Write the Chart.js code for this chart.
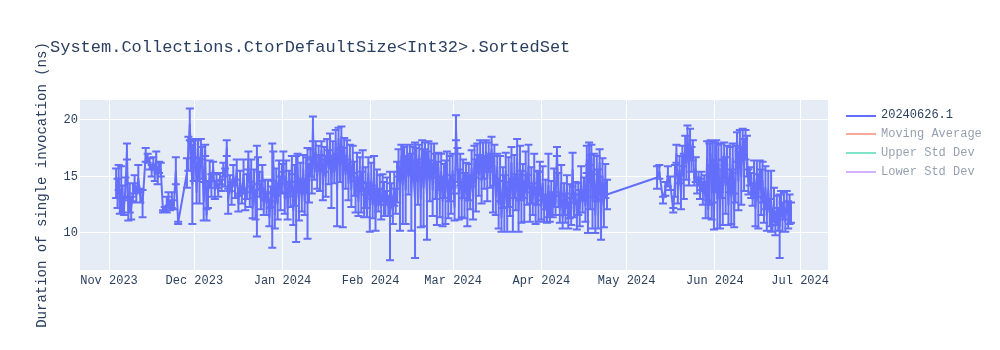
<!DOCTYPE html>
<html><head><meta charset="utf-8">
<script src="https://cdn.jsdelivr.net/npm/chart.js@4.4.1/dist/chart.umd.min.js"></script>
<style>
html,body{margin:0;padding:0;background:#fff;}
#wrap{position:relative;width:1000px;height:350px;font-family:"Liberation Mono","Courier New",monospace;}
#c{position:absolute;left:0;top:0;}
#title{position:absolute;left:50px;top:39px;font-size:17px;line-height:17px;color:#2a3f5f;white-space:pre;}
.leg{position:absolute;left:846px;height:19px;width:150px;font-size:12px;color:#2a3f5f;white-space:pre;}
.leg .sw{position:absolute;left:0;top:8.5px;width:30px;height:2px;}
.leg .tx{position:absolute;left:35px;top:0;line-height:19px;}
.off{opacity:0.5;}
</style></head>
<body>
<div id="wrap">
<canvas id="c" width="1000" height="350"></canvas>
<div id="title"></div>
<div id="legend"></div>
</div>
<script>
// ---- data: x = days since 2023-11-01, mean duration (ns), error (ns) ----
const novDays=[2.5,3.0,3.4,3.8,4.3,4.8,5.3,5.8,6.3,6.8,7.3,7.8,8.4,9.0,9.6,10.3,11.0,11.8,12.9,13.6,14.3,15.0,15.6,16.1,16.6,17.1,17.6,18.2,19.0,19.6,20.3,20.9,21.5,22.1,22.8,23.5,24.3,27.4,27.9,28.4,28.8,29.3];
const novMean=[14.4,13.5,14.9,12.6,13.8,13.0,12.4,14.0,17.2,12.0,13.1,12.2,13.6,14.3,13.4,14.8,13.3,12.6,16.9,16.6,16.1,15.5,16.2,15.2,16.4,14.8,15.8,15.6,11.9,12.1,12.5,13.0,12.4,12.9,12.5,15.5,10.9,15.3,17.0,19.6,16.8,14.3];
const novErr=[1.3,1.3,1.1,0.9,2.1,1.2,0.8,0.9,0.7,0.9,1.3,1.0,0.8,0.8,0.7,1.2,0.6,1.2,0.6,0.4,0.5,0.5,0.5,0.6,0.8,0.5,0.5,0.6,0.1,0.2,0.7,0.6,0.4,0.7,0.4,1.2,0.1,1.3,1.5,1.4,1.3,3.5];

const decDays=[29.8,30.3,30.8,31.3,31.8,32.3,32.8,33.3,33.8,34.3,34.8,35.4,36.0,36.6,37.2,37.8,38.4,39.0,39.6,40.2,40.8,41.4,41.9,42.5,43.1,43.7,44.3,44.9,45.5,46.1,46.7,47.3,47.9,48.5,49.0,49.5,50.0,50.5,51.0,51.5,52.0,52.4,52.9,53.4,53.9,54.4,54.9,55.4,55.9,56.4,56.9,57.4,57.8,58.3,58.8,59.3,59.8,60.3,60.8];
const decMean=[16.4,17.5,13.6,17.0,14.6,17.4,16.2,12.8,17.3,11.6,13.4,15.2,14.2,15.8,13.8,14.6,13.6,14.8,14.2,15.6,14.9,17.5,12.8,14.4,13.5,15.1,13.9,15.6,12.6,14.5,13.2,15.2,12.8,14.1,16.4,13.2,15.5,12.2,14.6,12.5,13.7,15.5,14.3,13.0,15.3,12.3,13.8,12.6,14.1,11.4,13.2,13.3,15.9,11.6,14.5,12.6,15.4,13.5,14.8];
const decErr=[1.8,0.8,1.0,1.2,2.0,0.9,1.4,1.7,0.5,0.5,1.2,1.2,1.0,0.5,0.8,0.6,0.4,0.5,0.5,0.6,0.8,0.7,1.1,0.7,1.0,0.9,0.8,0.9,0.7,1.0,0.6,1.3,0.8,1.1,0.8,0.9,1.0,0.9,1.0,1.3,4.0,1.2,1.1,0.9,0.7,0.7,0.9,1.0,0.6,0.8,0.9,4.6,1.3,1.2,1.2,1.4,1.0,1.5,1.3];

const janDays=[61.3,61.8,62.3,62.8,63.3,63.8,64.3,64.8,65.3,65.8,66.3,66.8,67.3,67.8,68.3,68.8,69.3,69.8,70.3,70.8,71.3,71.7,72.2,72.7,73.2,73.7,74.2,74.7,75.2,75.7,76.2,76.7,77.2,77.7,78.2,78.7,79.2,79.7,80.2,80.7,81.2,81.7,82.2,82.7,83.2,83.7,84.2,84.7,85.2,85.7,86.2,86.7,87.2,87.7,88.2,88.7,89.2,89.7,90.2,90.7,91.2,91.7];
const janMean=[16.3,13.0,15.0,12.2,14.6,13.4,16.0,12.0,14.2,13.0,15.8,12.6,14.9,13.3,15.6,12.8,15.1,13.5,14.4,16.2,15.0,19.2,15.7,17.1,14.8,16.6,15.3,17.3,14.2,16.5,15.0,17.4,15.8,17.8,14.4,16.9,15.4,18.0,13.8,18.3,16.0,18.5,14.0,17.6,15.2,17.0,14.4,16.8,13.9,16.5,14.8,13.2,16.0,12.8,15.2,13.6,15.9,12.4,14.0,12.9,15.3,12.1];
const janErr=[0.9,1.3,1.4,1.0,0.9,1.1,0.8,1.3,1.8,3.8,1.2,1.5,1.3,1.4,1.3,1.2,1.6,4.0,1.7,1.2,1.5,1.1,1.0,1.0,0.9,1.1,1.6,0.8,1.3,1.1,1.8,0.9,1.5,1.0,2.2,1.2,1.0,1.1,3.2,1.0,1.5,0.9,3.5,0.8,1.3,1.2,1.5,1.0,1.6,1.2,1.5,1.4,1.1,1.3,1.5,1.8,1.4,1.0,1.8,1.5,1.4,2.0];

const febDays=[92.2,92.7,93.2,93.7,94.2,94.7,95.2,95.7,96.2,96.7,97.2,97.7,98.2,98.8,99.3,99.8,100.3,100.8,101.3,101.8,102.3,102.8,103.3,103.8,104.3,104.8,105.3,105.8,106.3,106.8,107.6,108.1,108.6,109.1,109.6,110.1,110.6,111.1,111.8,112.3,112.8,113.3,113.8,114.3,114.8,115.3,115.8,116.3,116.8,117.3,117.8,118.3,118.8,119.3,119.8,120.3,120.8,121.5,122.0];
const febMean=[14.6,12.5,15.5,11.4,14.2,12.9,13.8,12.3,14.0,13.0,12.6,13.7,12.4,11.5,13.4,12.0,13.9,12.8,14.5,16.2,13.0,16.8,14.3,16.5,13.8,16.9,15.0,17.0,13.6,16.4,12.9,16.2,14.5,16.8,13.0,17.2,14.0,16.6,13.3,17.0,14.6,16.4,13.8,16.9,15.0,13.5,15.8,13.2,15.4,12.8,14.6,13.6,15.9,12.9,14.8,13.4,15.5,12.3,19.3];
const febErr=[1.6,1.2,1.3,1.2,1.4,1.0,1.3,1.1,1.2,1.5,1.1,1.2,0.9,3.9,1.0,1.2,1.5,1.1,1.8,1.2,2.8,1.0,3.5,1.1,3.0,0.9,1.6,0.8,3.4,1.2,5.1,1.3,2.0,1.0,2.5,1.0,3.4,1.4,3.9,1.1,1.8,1.5,2.3,1.0,2.0,2.8,1.3,1.8,1.6,2.2,1.5,2.8,1.3,1.6,2.0,1.7,1.5,1.2,1.1];

const marDays=[122.5,123,123.5,124,124.5,125,125.5,126,126.5,127,127.5,128,128.5,129,129.5,130,130.5,131,131.5,132,132.5,133,133.5,134,134.5,135,135.5,136,136.5,137,137.5,138,138.5,139,139.5,140,140.5,141,141.5,142,142.5,143,143.5,144,144.5,145,145.5,146,146.5,147,147.5,148,148.5,149,149.5,150,150.5,151,151.5];
const marMean=[16.0,13.4,15.6,12.9,14.8,13.3,15.0,12.8,14.5,13.6,15.7,13.0,16.3,14.2,16.8,15.1,17.0,14.6,16.4,15.3,17.2,14.8,16.7,15.5,17.4,14.3,16.0,13.2,15.8,12.5,14.8,11.4,14.0,12.6,15.5,11.8,14.5,13.0,16.2,12.4,15.0,13.6,16.6,12.0,15.3,13.2,14.6,12.8,15.4,13.8,15.9,12.5,14.2,13.0,15.2,12.4,14.0,13.2,15.0];
const marErr=[1.5,2.2,1.4,1.5,1.7,2.0,1.2,2.2,1.6,1.5,1.6,1.8,1.4,2.3,1.1,1.8,1.2,2.0,1.6,1.4,1.0,2.0,1.3,1.5,1.1,2.5,1.8,1.6,1.2,2.1,2.0,1.3,1.8,2.5,1.6,1.7,2.2,1.5,1.4,2.3,1.9,1.6,1.7,1.9,2.4,2.3,1.5,1.8,1.8,1.3,1.9,1.5,1.6,1.4,1.8,1.6,1.5,2.2,1.3];

const aprDays=[152,152.5,153,153.5,154,154.5,155,155.5,156,156.5,157,157.5,158,158.5,159,159.5,160,160.5,161,161.5,162,162.5,163,163.5,164,164.5,165,165.5,166,166.5,167,167.5,168,168.4,168.8,169.2,169.6,170,170.5,171,171.5,172,172.5,173,173.5,174,174.5,175.1];
const aprMean=[12.3,14.4,12.0,13.4,11.8,14.2,12.2,13.0,12.5,14.0,12.6,17.2,13.8,12.1,14.4,11.4,13.0,12.2,14.1,11.3,12.8,11.9,15.6,12.4,13.6,11.5,13.0,12.2,14.6,12.7,13.9,12.4,16.5,11.6,17.0,14.5,16.6,12.8,15.6,11.6,14.8,13.0,16.2,11.2,15.0,12.4,14.6,13.4];
const aprErr=[1.1,1.5,1.0,1.3,0.9,2.8,1.2,1.6,1.1,1.7,1.0,0.4,1.5,1.2,1.6,1.0,1.4,1.3,1.0,0.9,1.5,1.2,1.5,1.0,0.9,1.2,1.4,1.6,1.3,0.9,1.0,1.4,1.2,1.6,1.0,2.4,1.2,2.4,1.4,1.6,2.0,2.6,1.2,1.8,1.6,1.9,1.5,1.3];

const junDays=[192.7,193.5,194.8,195.6,196.5,197.3,198.4,199.0,199.5,200.0,200.6,201.1,201.6,202.1,202.6,203.0,203.4,203.9,204.3,204.8,205.3,205.8,206.3,206.8,207.3,207.8,208.3,208.8,209.3,209.8,210.3,210.7,211.1,211.5,211.9,212.3,212.7,213.1,213.5,213.9,214.3,214.8,215.3,215.8,216.3,216.8,217.3,217.8,218.3,218.8,219.3,219.8,220.3,220.8,221.3,221.8,222.3,222.8,223.3,223.8,224.3,224.8,225.3,225.8,226.3,226.8,227.3,227.8,228.3,228.8,229.3,229.8,230.3,230.8,231.3,231.8,232.3,232.8,233.3,233.8,234.3,234.8,235.3,235.8,236.3,236.8,237.3,237.8,238.3,238.8,239.3,239.8];
const junMean=[14.9,15.4,12.9,13.9,15.0,14.4,12.0,14.6,17.0,13.9,15.6,13.4,16.8,15.0,17.6,16.2,18.6,15.6,18.2,16.5,17.3,14.8,15.6,14.2,14.8,13.9,14.6,13.5,14.4,12.5,16.6,12.1,15.2,17.0,13.6,16.5,11.5,15.8,17.3,13.0,16.2,12.0,15.5,13.6,17.0,14.2,16.1,12.5,15.6,13.2,16.6,12.0,15.2,17.6,14.6,18.1,15.0,18.4,16.0,17.8,16.8,14.5,15.0,14.2,13.0,15.4,12.2,14.8,12.8,15.5,13.6,14.5,12.0,14.0,11.5,13.8,11.8,12.8,11.0,12.5,10.6,12.0,11.2,10.6,12.6,11.4,12.4,11.0,12.9,11.6,12.1,11.8];
const junErr=[1.0,0.6,0.3,0.6,0.9,0.6,0.2,1.4,0.8,1.3,1.2,1.3,0.9,2.0,1.0,1.5,0.9,1.4,1.0,1.1,0.9,0.6,1.1,0.7,0.6,0.9,0.8,1.0,0.7,1.2,1.5,0.8,2.7,1.2,2.4,1.6,1.2,2.2,0.9,2.6,1.6,1.6,2.4,2.9,1.0,2.5,1.6,1.8,2.0,2.4,1.3,1.5,2.5,1.3,2.6,1.0,2.5,0.8,2.3,1.3,1.8,1.1,0.8,1.1,0.6,1.0,1.6,1.6,2.4,0.9,2.0,1.8,1.1,1.9,1.3,1.7,1.2,2.7,0.9,1.5,0.8,1.3,1.0,2.8,1.1,1.3,1.2,0.9,0.8,1.2,1.3,0.9];

const monthTickDays=[0,30,61,92,121,152,182,213,243];
const monthTickLabels=["Nov 2023","Dec 2023","Jan 2024","Feb 2024","Mar 2024","Apr 2024","May 2024","Jun 2024","Jul 2024"];
const yTickValues=[10,15,20];
const chartTitle="System.Collections.CtorDefaultSize<Int32>.SortedSet";
const yAxisTitle="Duration of single invocation (ns)";
const legendNames=["20240626.1","Moving Average","Upper Std Dev","Lower Std Dev"];
const legendColors=["#636efa","#EF553B","#00cc96","#ab63fa"];
const legendVisible=[true,false,false,false];

// ---- assemble ----
const days=[].concat(novDays,decDays,janDays,febDays,marDays,aprDays,junDays);
const means=[].concat(novMean,decMean,janMean,febMean,marMean,aprMean,junMean);
const errs=[].concat(novErr,decErr,janErr,febErr,marErr,aprErr,junErr);
const points=days.map((d,i)=>({x:d,y:means[i]}));

const FONT='"Liberation Mono","Courier New",monospace';
const TXT='#2a3f5f';

document.getElementById('title').textContent=chartTitle;
const lg=document.getElementById('legend');
const legTops=[106,124.5,143.5,162.5];
legendNames.forEach((n,i)=>{
  const d=document.createElement('div');
  d.className='leg'+(legendVisible[i]?'':' off');
  d.style.top=legTops[i]+'px';
  const s=document.createElement('div');s.className='sw';s.style.background=legendColors[i];
  const t=document.createElement('div');t.className='tx';t.textContent=n;
  d.appendChild(s);d.appendChild(t);lg.appendChild(d);
});

const bgPlugin={id:'bg',beforeDraw(chart){const {ctx,chartArea:a}=chart;ctx.save();ctx.fillStyle='#e5ecf6';ctx.fillRect(a.left,a.top,a.right-a.left,a.bottom-a.top);ctx.restore();}};
const errPlugin={id:'err',afterDatasetsDraw(chart){
  const ctx=chart.ctx,xs=chart.scales.x,ys=chart.scales.y,a=chart.chartArea;
  ctx.save();ctx.beginPath();ctx.rect(a.left,a.top,a.right-a.left,a.bottom-a.top);ctx.clip();
  ctx.strokeStyle='#636efa';ctx.lineWidth=2;ctx.beginPath();
  for(let i=0;i<days.length;i++){
    const x=xs.getPixelForValue(days[i]);
    const y1=ys.getPixelForValue(means[i]+errs[i]);
    const y2=ys.getPixelForValue(means[i]-errs[i]);
    ctx.moveTo(x,y1);ctx.lineTo(x,y2);
    ctx.moveTo(x-4,y1);ctx.lineTo(x+4,y1);
    ctx.moveTo(x-4,y2);ctx.lineTo(x+4,y2);
  }
  ctx.stroke();ctx.restore();
}};

new Chart(document.getElementById('c'),{
  type:'line',
  data:{datasets:[{label:legendNames[0],data:points,borderColor:'#636efa',borderWidth:2,pointRadius:0,tension:0,borderJoinStyle:'round',fill:false}]},
  options:{
    responsive:false,animation:false,devicePixelRatio:1,
    layout:{padding:{left:0,right:172,top:100,bottom:0}},
    plugins:{legend:{display:false},tooltip:{enabled:false},title:{display:false}},
    scales:{
      x:{type:'linear',min:-10.2,max:252.8,
        afterBuildTicks(s){s.ticks=monthTickDays.map(v=>({value:v}));},
        afterFit(s){s.height=80;},
        ticks:{autoSkip:false,maxRotation:0,padding:4,color:TXT,font:{family:FONT,size:12},callback:(v,i)=>monthTickLabels[i]},
        grid:{color:'#ffffff',lineWidth:1,drawTicks:false},border:{display:false}},
      y:{type:'linear',min:6.73,max:21.75,
        afterBuildTicks(s){s.ticks=yTickValues.map(v=>({value:v}));},
        afterFit(s){s.width=80;},
        ticks:{padding:2,color:TXT,font:{family:FONT,size:12},callback:v=>String(v)},
        grid:{color:'#ffffff',lineWidth:1,drawTicks:false},border:{display:false},
        title:{display:true,text:yAxisTitle,color:TXT,font:{family:FONT,size:14},padding:{top:33.5,bottom:0}}}
    }
  },
  plugins:[bgPlugin,errPlugin]
});
</script>
</body></html>
